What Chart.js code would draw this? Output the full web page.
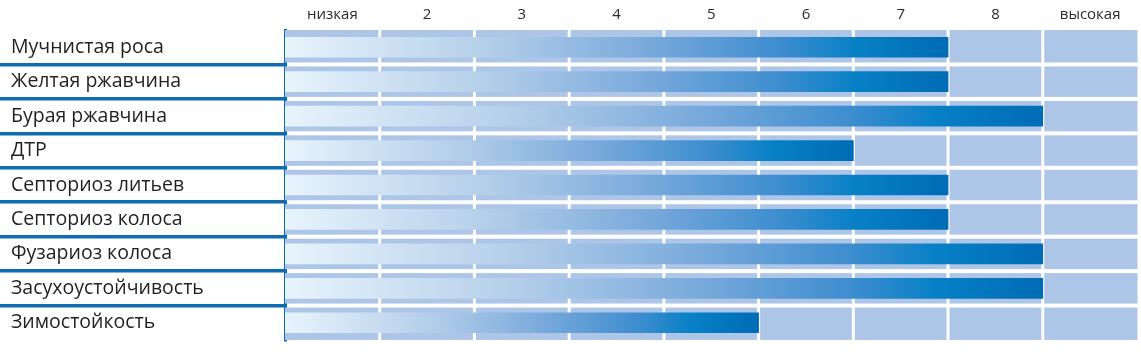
<!DOCTYPE html>
<html>
<head>
<meta charset="utf-8">
<script src="https://cdn.jsdelivr.net/npm/chart.js@4"></script>
<style>
  html, body { margin: 0; padding: 0; background: #fff; }
  #wrap { width: 1141px; height: 364px; }
</style>
</head>
<body>
<div id="wrap"><canvas id="traits-chart"></canvas></div>
<script>
const traits = [
  "Мучнистая роса",
  "Желтая ржавчина",
  "Бурая ржавчина",
  "ДТР",
  "Септориоз литьев",
  "Септориоз колоса",
  "Фузариоз колоса",
  "Засухоустойчивость",
  "Зимостойкость"
];
const scores = [7, 7, 8, 6, 7, 7, 8, 8, 5];
const levelLabels = ["низкая", "2", "3", "4", "5", "6", "7", "8", "высокая"];

const cellColor = "#adc6e7";
const lineBlue = "#0e6cb2";

// light blue cells behind the bars, with white gaps between them
const cellsPlugin = {
  id: "cells",
  beforeDatasetsDraw(chart) {
    const { ctx, scales: { x, y } } = chart;
    const cols = levelLabels.length;
    const rows = traits.length;
    const pitch = y.getPixelForValue(1) - y.getPixelForValue(0);
    ctx.save();
    ctx.fillStyle = cellColor;
    for (let i = 0; i < cols; i++) {
      const x0 = x.getPixelForValue(i) + (i > 0 ? 1.5 : 0);
      const x1 = x.getPixelForValue(i + 1) - (i < cols - 1 ? 1.5 : 0);
      for (let j = 0; j < rows; j++) {
        const c = y.getPixelForValue(j);
        const y0 = c - pitch / 2 + (j > 0 ? 2 : 0);
        const y1 = c + pitch / 2 - (j < rows - 1 ? 2 : 0);
        ctx.fillRect(x0, y0, x1 - x0, y1 - y0);
      }
    }
    ctx.restore();
  }
};

function barGradient(context) {
  const chart = context.chart;
  const { ctx, chartArea, scales } = chart;
  if (!chartArea || !scales.x) return "#3a8dcf";
  const x0 = scales.x.getPixelForValue(0);
  const x1 = scales.x.getPixelForValue(context.raw);
  const g = ctx.createLinearGradient(x0, 0, x1, 0);
  g.addColorStop(0, "#e8f4fc");
  g.addColorStop(0.3, "#b5cfea");
  g.addColorStop(0.55, "#78a9db");
  g.addColorStop(0.75, "#3c8dcf");
  g.addColorStop(0.86, "#0780c6");
  g.addColorStop(1, "#006cb5");
  return g;
}

new Chart(document.getElementById("traits-chart"), {
  type: "bar",
  data: {
    labels: traits,
    datasets: [{
      data: scores,
      backgroundColor: barGradient,
      borderWidth: 0,
      barThickness: 20
    }]
  },
  options: {
    indexAxis: "y",
    responsive: true,
    maintainAspectRatio: false,
    animation: false,
    events: [],
    layout: { padding: { left: 11, right: 3.5, top: 0, bottom: 24 } },
    plugins: {
      legend: { display: false },
      tooltip: { enabled: false }
    },
    scales: {
      x: {
        type: "linear",
        position: "top",
        min: 0,
        max: levelLabels.length,
        grid: { display: false },
        border: { display: false },
        afterBuildTicks: (scale) => {
          scale.ticks = levelLabels.map((_, i) => ({ value: i + 0.5 }));
        },
        afterFit: (scale) => { scale.height = 30; },
        ticks: {
          autoSkip: false,
          maxRotation: 0,
          padding: -1.5,
          color: "#2b2b2b",
          font: { family: "'Open Sans'", size: 15 },
          callback: (v, i) => levelLabels[i]
        }
      },
      y: {
        z: 1,
        afterFit: (scale) => { scale.width = 274; },
        grid: {
          offset: true,
          drawOnChartArea: false,
          drawTicks: true,
          tickLength: 300,
          lineWidth: 3.5,
          color: (c) => (c.type === "tick" && c.index > 0) ? lineBlue : "rgba(0,0,0,0)"
        },
        border: { display: true, color: lineBlue, width: 3 },
        ticks: {
          crossAlign: "far",
          autoSkip: false,
          color: "#231f20",
          font: { family: "'Open Sans'", size: 19.5 }
        }
      }
    }
  },
  plugins: [cellsPlugin]
});
</script>
</body>
</html>
